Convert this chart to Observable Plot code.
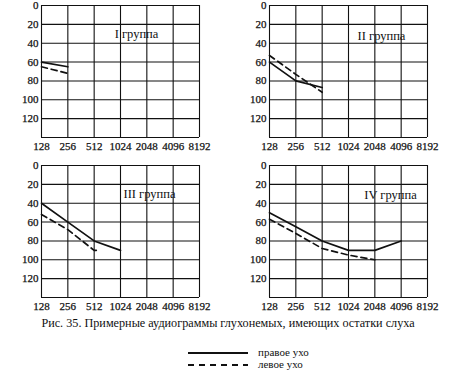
<!DOCTYPE html>
<html>
<head>
<meta charset="utf-8">
<script src="https://cdn.jsdelivr.net/npm/d3@7"></script>
<script src="https://cdn.jsdelivr.net/npm/@observablehq/plot@0.6"></script>
<style>
  html, body { margin: 0; padding: 0; background: #fff; }
  #root { position: relative; width: 456px; height: 392px; font-family: "Liberation Serif", "DejaVu Serif", serif; color: #111; }
  .pan { position: absolute; }
  .cap { position: absolute; left: 0; width: 456px; top: 316px; text-align: center; font-size: 12.2px; white-space: nowrap; }
  .leg { position: absolute; left: 188px; font-size: 11px; white-space: nowrap; height: 12px; line-height: 12px; }
  .leg svg { vertical-align: middle; margin-right: 10px; }
</style>
</head>
<body>
<div id="root"></div>
<script>
// ---- data ----
const freqTicks = [128, 256, 512, 1024, 2048, 4096, 8192];
const levelTicks = [0, 20, 40, 60, 80, 100, 120];
const gridLevels = [0, 20, 40, 60, 80, 100, 120, 140];
const groups = ["I группа", "II группа", "III группа", "IV группа"];

const rightFreq = [[128, 256], [128, 256, 512], [128, 256, 512, 1024], [128, 256, 512, 1024, 2048, 4096]];
const rightEar  = [[60, 65], [60, 80, 87], [40, 60, 80, 90], [50, 65, 80, 90, 90, 80]];
const leftFreq  = [[128, 256], [128, 256, 512], [128, 256, 512, 600], [128, 256, 512, 1024, 2048]];
const leftEar   = [[65, 72], [53, 73, 92], [52, 68, 90, 90], [57, 72, 88, 95, 100]];

const legendLabels = ["правое ухо", "левое ухо"];
const caption = "Рис. 35. Примерные аудиограммы глухонемых, имеющих остатки слуха";

// ---- layout (styles only) ----
const pos = [[0, 0], [228, 0], [0, 160], [228, 160]];
const titleOff = [[16, 28], [33, 30], [29, 28], [42, 29]];
const font = "Liberation Serif, DejaVu Serif, serif";
const ink = "#111";

function panel(i) {
  const r = rightFreq[i].map((f, j) => ({f, v: rightEar[i][j]}));
  const l = leftFreq[i].map((f, j) => ({f, v: leftEar[i][j]}));
  return Plot.plot({
    width: 228, height: 160,
    marginLeft: 41, marginRight: 29, marginTop: 5, marginBottom: 23,
    x: {type: "log", base: 2, domain: [128, 8192], axis: null},
    y: {domain: [0, 140], reverse: true, axis: null},
    style: {fontFamily: font, color: ink, background: "transparent", overflow: "visible"},
    marks: [
      Plot.ruleX(freqTicks, {x: d => d, stroke: ink, strokeWidth: 1.1}),
      Plot.ruleY(gridLevels, {y: d => d, stroke: ink, strokeWidth: 1.1}),
      Plot.line(r, {x: "f", y: "v", stroke: ink, strokeWidth: 1.7}),
      Plot.line(l, {x: "f", y: "v", stroke: ink, strokeWidth: 1.7, strokeDasharray: "6,4"}),
      Plot.text(freqTicks, {x: d => d, text: d => String(d), frameAnchor: "bottom", dy: 9, lineAnchor: "middle", fontSize: 11, fill: ink, stroke: ink, strokeWidth: 0.25}),
      Plot.text(levelTicks, {y: d => d, text: d => String(d), frameAnchor: "left", dx: -3, textAnchor: "end", lineAnchor: "middle", fontSize: 11, fill: ink, stroke: ink, strokeWidth: 0.25}),
      Plot.text([groups[i]], {text: d => d, frameAnchor: "top", dx: titleOff[i][0], dy: titleOff[i][1], lineAnchor: "middle", fontSize: 12.5, fill: ink})
    ]
  });
}

const root = document.getElementById("root");
for (let i = 0; i < 4; i++) {
  const wrap = document.createElement("div");
  wrap.className = "pan";
  wrap.style.left = pos[i][0] + "px";
  wrap.style.top = pos[i][1] + "px";
  wrap.appendChild(panel(i));
  root.appendChild(wrap);
}

const cap = document.createElement("div");
cap.className = "cap";
cap.textContent = caption;
root.appendChild(cap);

const legTops = [346, 358];
const legDash = ["none", "6,5"];
legendLabels.forEach((t, k) => {
  const d = document.createElement("div");
  d.className = "leg";
  d.style.top = legTops[k] + "px";
  const svgNS = "http://www.w3.org/2000/svg";
  const s = document.createElementNS(svgNS, "svg");
  s.setAttribute("width", "60"); s.setAttribute("height", "6");
  const ln = document.createElementNS(svgNS, "line");
  ln.setAttribute("x1", "0"); ln.setAttribute("x2", "60");
  ln.setAttribute("y1", "3"); ln.setAttribute("y2", "3");
  ln.setAttribute("stroke", ink); ln.setAttribute("stroke-width", "2");
  if (legDash[k] !== "none") ln.setAttribute("stroke-dasharray", legDash[k]);
  s.appendChild(ln);
  d.appendChild(s);
  d.appendChild(document.createTextNode(t));
  root.appendChild(d);
});
</script>
</body>
</html>
